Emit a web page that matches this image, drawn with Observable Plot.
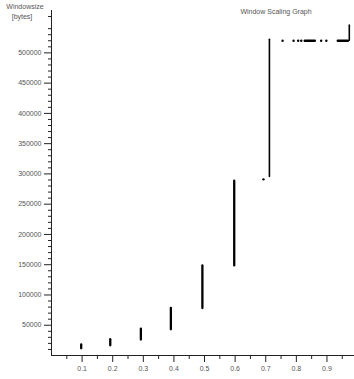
<!DOCTYPE html>
<html>
<head>
<meta charset="utf-8">
<script src="https://cdn.jsdelivr.net/npm/d3@7"></script>
<script src="https://cdn.jsdelivr.net/npm/@observablehq/plot@0.6"></script>
<style>
  html, body { margin: 0; padding: 0; background: #fff; overflow: hidden; }
  #chart { position: relative; width: 354px; height: 379px; }
</style>
</head>
<body>
<div id="chart"></div>
<script>
// Vertical clusters of samples (time in s, window size in bytes)
const barTime = [0.097, 0.192, 0.292, 0.390, 0.493, 0.597];
const barLow  = [11000, 16000, 25500, 42500, 77500, 148000];
const barHigh = [17500, 26000, 43500, 78000, 148000, 288000];

// Thin vertical runs
const lineTime = [0.712, 0.973];
const lineLow  = [295000, 520000];
const lineHigh = [521500, 545000];

// Isolated samples
const dotTime = [0.6925, 0.755, 0.791, 0.806, 0.816, 0.881, 0.898];
const dotSize = [291000, 520000, 520000, 520000, 520000, 520000, 520000];

// Horizontal runs at the plateau
const runStart = [0.829, 0.937];
const runEnd   = [0.862, 0.970];
const runSize  = [520000, 520000];

// Axis ticks
const xMajor = [0.1, 0.2, 0.3, 0.4, 0.5, 0.6, 0.7, 0.8, 0.9, 1];
const xMinor = [0.05, 0.15, 0.25, 0.35, 0.45, 0.55, 0.65, 0.75, 0.85, 0.95];
const yMajor = [50000, 100000, 150000, 200000, 250000, 300000, 350000, 400000, 450000, 500000];
const yMinor = d3.range(10000, 570000, 10000).filter(v => v % 50000 !== 0);

const title = "Window Scaling Graph";
const yTitle = ["Windowsize", "[bytes]"];

const bars = barTime.map((t, i) => ({t, lo: barLow[i], hi: barHigh[i]}));
const lines = lineTime.map((t, i) => ({t, lo: lineLow[i], hi: lineHigh[i]}));
const dots = dotTime.map((t, i) => ({t, v: dotSize[i]}));
const runs = runStart.map((s, i) => ({s, e: runEnd[i], v: runSize[i]}));

const font = "Liberation Sans, Arial, sans-serif";

const plot = Plot.plot({
  width: 354,
  height: 379,
  marginLeft: 51,
  marginRight: 0,
  marginTop: 10,
  marginBottom: 24,
  style: {fontFamily: font, fontSize: "7px", color: "#333", background: "#fff", overflow: "visible"},
  x: {domain: [0, 0.99], axis: null},
  y: {domain: [0, 570000], axis: null},
  marks: [
    Plot.axisY({ticks: yMinor, tickSize: 3, tickFormat: () => "", stroke: "#222", label: null}),
    Plot.axisY({ticks: yMajor, tickSize: 7, tickPadding: 3, tickFormat: d => String(d), stroke: "#222", fill: "#555", label: null}),
    Plot.axisX({ticks: xMinor, tickSize: 4, tickFormat: () => "", stroke: "#222", label: null}),
    Plot.axisX({ticks: xMajor, tickSize: 7, tickPadding: 4, tickFormat: d => String(d), stroke: "#222", fill: "#555", label: null}),
    Plot.ruleX([0], {stroke: "#222"}),
    Plot.ruleY([0], {stroke: "#222"}),
    Plot.ruleX(bars, {x: "t", y1: "lo", y2: "hi", stroke: "#000", strokeWidth: 2.3, strokeLinecap: "round"}),
    Plot.ruleX(lines, {x: "t", y1: "lo", y2: "hi", stroke: "#000", strokeWidth: 1.6, strokeLinecap: "round"}),
    Plot.ruleY(runs, {y: "v", x1: "s", x2: "e", stroke: "#000", strokeWidth: 2.4, strokeLinecap: "round"}),
    Plot.dot(dots, {x: "t", y: "v", r: 1.2, fill: "#000", stroke: "none"})
  ]
});

const svg = d3.select(plot);
svg.append("text")
  .attr("x", 276).attr("y", 14)
  .attr("text-anchor", "middle")
  .attr("fill", "#555")
  .style("font-family", font).style("font-size", "7px")
  .text(title);
svg.append("text")
  .attr("x", 25).attr("y", 9)
  .attr("text-anchor", "middle")
  .attr("fill", "#555")
  .style("font-family", font).style("font-size", "7px")
  .text(yTitle[0]);
svg.append("text")
  .attr("x", 22).attr("y", 19)
  .attr("text-anchor", "middle")
  .attr("fill", "#555")
  .style("font-family", font).style("font-size", "7px")
  .text(yTitle[1]);

document.getElementById("chart").appendChild(plot);
</script>
</body>
</html>
